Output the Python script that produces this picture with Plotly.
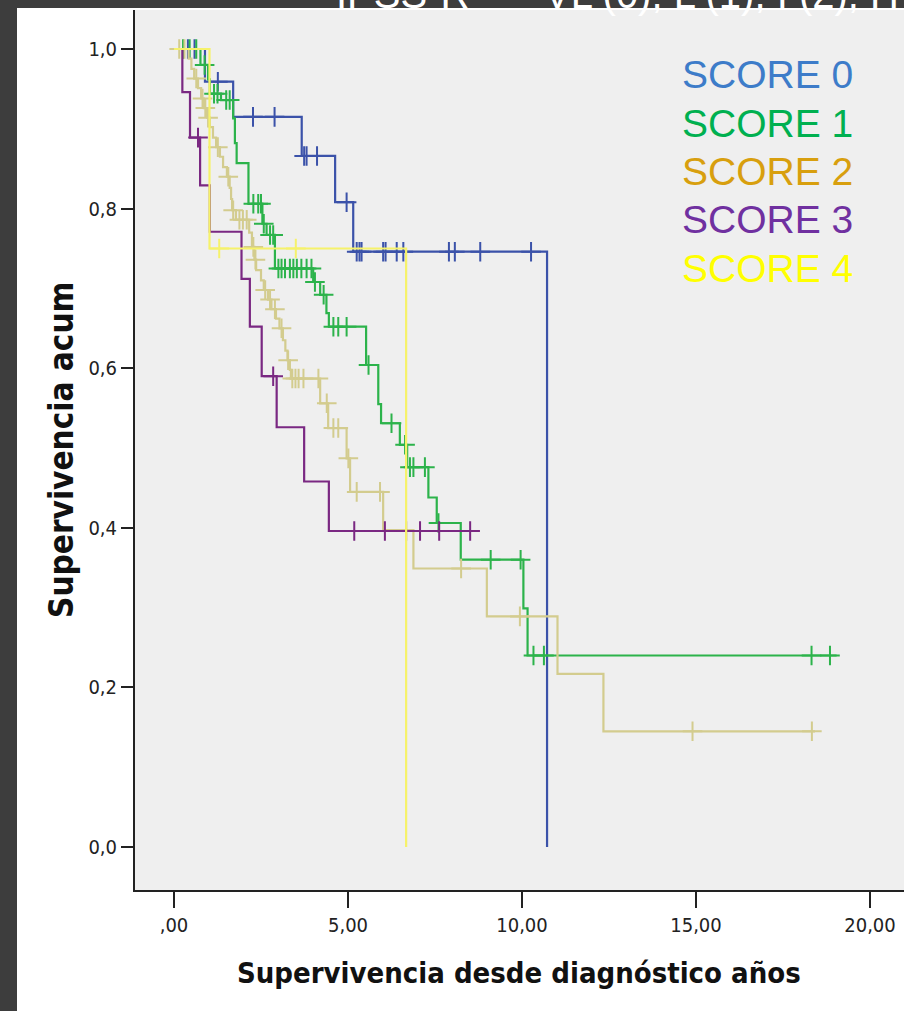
import plotly.graph_objects as go

# ---------------- data ----------------
groups = ["SCORE 0", "SCORE 1", "SCORE 2", "SCORE 3", "SCORE 4"]

# SCORE 0
s0_event_t = [0.89, 1.70, 3.67, 4.63, 5.15, 10.72]
s0_event_s = [0.959, 0.915, 0.866, 0.808, 0.746, 0.0]
s0_censor_t = [0.40, 0.59, 1.26, 2.27, 2.89, 3.74, 3.81, 4.11, 4.96, 5.25, 5.33,
               5.39, 6.01, 6.08, 6.40, 6.59, 7.90, 8.07, 8.80, 10.26]
s0_end = 10.72

# SCORE 1
s1_event_t = [0.76, 0.98, 1.03, 1.35, 1.70, 1.75, 1.80, 2.14, 2.54, 2.66, 2.90,
              4.00, 4.20, 4.38, 4.45, 5.52, 5.87, 5.95, 6.49, 6.70, 7.31, 7.55,
              8.24, 10.04, 10.16]
s1_event_s = [0.980, 0.962, 0.944, 0.936, 0.913, 0.882, 0.857, 0.806, 0.781, 0.767,
              0.725, 0.708, 0.692, 0.669, 0.652, 0.604, 0.555, 0.531, 0.504, 0.476,
              0.438, 0.406, 0.360, 0.299, 0.240]
s1_censor_t = [0.26, 0.45, 0.64, 0.88, 1.15, 1.25, 1.50, 1.60, 2.28, 2.42, 2.50,
               2.58, 2.76, 2.85, 3.00, 3.09, 3.19, 3.33, 3.43, 3.53, 3.66, 3.81,
               3.95, 4.05, 4.30, 4.58, 4.72, 4.96, 5.59, 6.25, 6.64, 6.78, 6.88,
               7.21, 7.60, 9.10, 9.96, 10.33, 10.63, 18.32, 18.85]
s1_end = 19.04

# SCORE 2
s2_event_t = [0.42, 0.50, 0.58, 0.69, 0.78, 0.86, 0.95, 1.03, 1.12, 1.21, 1.32,
              1.41, 1.52, 1.60, 1.64, 1.67, 1.78, 2.16, 2.24, 2.31, 2.36, 2.50,
              2.58, 2.70, 2.80, 2.93, 3.03, 3.13, 3.20, 3.26, 3.33, 3.36, 4.20,
              4.43, 4.96, 5.06, 6.01, 6.88, 8.99, 11.02, 12.34]
s2_event_s = [0.988, 0.975, 0.963, 0.951, 0.938, 0.926, 0.914, 0.902, 0.889, 0.877,
              0.865, 0.852, 0.840, 0.826, 0.812, 0.798, 0.786, 0.770, 0.752, 0.736,
              0.723, 0.710, 0.698, 0.686, 0.674, 0.662, 0.650, 0.635, 0.622, 0.610,
              0.598, 0.587, 0.556, 0.525, 0.487, 0.445, 0.397, 0.349, 0.289, 0.217,
              0.145]
s2_censor_t = [0.15, 0.30, 0.64, 0.82, 0.90, 0.98, 1.26, 1.56, 1.70, 1.88, 1.98,
               2.09, 2.28, 2.34, 2.62, 2.76, 2.90, 3.09, 3.28, 3.40, 3.49, 3.58,
               3.72, 4.15, 4.39, 4.58, 4.72, 5.01, 5.25, 5.92, 8.25, 9.94, 14.90,
               18.33]
s2_end = 18.42

# SCORE 3
s3_event_t = [0.24, 0.46, 0.75, 1.03, 1.94, 2.18, 2.52, 2.95, 3.74, 4.45]
s3_event_s = [0.946, 0.889, 0.829, 0.771, 0.712, 0.652, 0.590, 0.526, 0.458, 0.396]
s3_censor_t = [0.69, 2.85, 5.18, 6.06, 6.67, 7.07, 7.62, 8.51]
s3_end = 8.62

# SCORE 4
s4_event_t = [1.02, 6.67]
s4_event_s = [0.75, 0.0]
s4_censor_t = [1.30, 3.50]
s4_end = 6.67

x_tickvals = [0, 5, 10, 15, 20]
x_ticktext = [",00", "5,00", "10,00", "15,00", "20,00"]
y_tickvals = [0.0, 0.2, 0.4, 0.6, 0.8, 1.0]
y_ticktext = ["0,0", "0,2", "0,4", "0,6", "0,8", "1,0"]

x_title = "Supervivencia desde diagnóstico años"
y_title = "Supervivencia acum"
top_left_text = "IPSS-R"
top_right_text = "VL (0); L (1); I (2); H (3); VH (4)"

# ---------------- styles ----------------
line_colors = ["#3b52a9", "#2cb34b", "#d3cc8e", "#7a2882", "#f6f26a"]
legend_colors = ["#3d7cc9", "#00b050", "#d89f0e", "#7030a0", "#ffff00"]

series = [
    (s0_event_t, s0_event_s, s0_censor_t, s0_end),
    (s1_event_t, s1_event_s, s1_censor_t, s1_end),
    (s2_event_t, s2_event_s, s2_censor_t, s2_end),
    (s3_event_t, s3_event_s, s3_censor_t, s3_end),
    (s4_event_t, s4_event_s, s4_censor_t, s4_end),
]


def level_at(t, ev_t, ev_s):
    s = 1.0
    for et, es in zip(ev_t, ev_s):
        if et <= t:
            s = es
    return s


W, H = 904, 1011
ML, MR, MT, MB = 135, 0, 10, 121
PW, PH = W - ML - MR, H - MT - MB


def px_x(p):
    return (p - ML) / PW


def px_y(p):
    return (H - MB - p) / PH


fig = go.Figure()
for name, color, (ev_t, ev_s, c_t, end) in zip(groups, line_colors, series):
    xs = [0.0] + list(ev_t) + [end]
    ys = [1.0] + list(ev_s) + [ev_s[-1]]
    fig.add_trace(go.Scatter(x=xs, y=ys, mode="lines", line=dict(color=color, width=2.2, shape="hv"),
                             name=name, showlegend=False, hoverinfo="skip"))
    cy = [level_at(t, ev_t, ev_s) for t in c_t]
    fig.add_trace(go.Scatter(x=c_t, y=cy, mode="markers",
                             marker=dict(symbol="cross-thin", size=14, color=color,
                                         line=dict(color=color, width=2)),
                             showlegend=False, hoverinfo="skip"))

tick_font = dict(family="DejaVu Sans Condensed, DejaVu Sans", size=20, color="#222222")

fig.update_xaxes(range=[(ML - 174) / 34.8, (W - 174) / 34.8], tickvals=x_tickvals, ticktext=x_ticktext,
                 showline=True, linecolor="#222222", linewidth=2, ticks="outside", ticklen=16,
                 tickwidth=2, tickcolor="#222222", showgrid=False, zeroline=False, tickfont=tick_font)
fig.update_yaxes(range=[(847 - (H - MB)) / 798, (847 - MT) / 798], tickvals=y_tickvals, ticktext=y_ticktext,
                 showline=True, linecolor="#222222", linewidth=2, ticks="outside", ticklen=12,
                 tickwidth=2, tickcolor="#222222", showgrid=False, zeroline=False, tickfont=tick_font)

annotations = []
# legend text (slide overlay)
for i, (name, col) in enumerate(zip(groups, legend_colors)):
    annotations.append(dict(x=px_x(680), y=px_y(75 + i * 48.3), xref="paper", yref="paper",
                            text=name, showarrow=False, xanchor="left", yanchor="middle",
                            font=dict(family="Liberation Sans, Arial", size=39, color=col)))
# axis titles
annotations.append(dict(x=px_x(519), y=px_y(973), xref="paper", yref="paper", text="<b>" + x_title + "</b>",
                        showarrow=False, xanchor="center", yanchor="middle",
                        font=dict(family="DejaVu Sans Condensed, DejaVu Sans", size=29, color="#111111")))
annotations.append(dict(x=px_x(61), y=px_y(450), xref="paper", yref="paper", text="<b>" + y_title + "</b>",
                        showarrow=False, xanchor="center", yanchor="middle", textangle=-90,
                        font=dict(family="DejaVu Sans Condensed, DejaVu Sans", size=33, color="#111111")))
# clipped slide title at the very top (cut off by the page edge, as in the reference)
annotations.append(dict(x=px_x(334), y=px_y(18), xref="paper", yref="paper", text=top_left_text,
                        showarrow=False, xanchor="left", yanchor="bottom",
                        font=dict(family="Liberation Sans, Arial", size=40, color="#ffffff")))
annotations.append(dict(x=px_x(542), y=px_y(18), xref="paper", yref="paper", text=top_right_text,
                        showarrow=False, xanchor="left", yanchor="bottom",
                        font=dict(family="Liberation Sans, Arial", size=40, color="#ffffff")))

shapes = [
    dict(type="rect", xref="paper", yref="paper", x0=px_x(0), x1=px_x(17), y0=px_y(H + 5), y1=px_y(-5),
         fillcolor="#3d3d3d", line=dict(width=0), layer="above"),
    dict(type="rect", xref="paper", yref="paper", x0=px_x(0), x1=px_x(W + 5), y0=px_y(8), y1=px_y(-5),
         fillcolor="#3d3d3d", line=dict(width=0), layer="above"),
]

fig.update_layout(width=W, height=H, margin=dict(l=ML, r=MR, t=MT, b=MB, pad=0),
                  paper_bgcolor="#ffffff", plot_bgcolor="#efefef",
                  showlegend=False, annotations=annotations, shapes=shapes)

fig.write_html("out.html", config={"displayModeBar": False},
               post_script="document.body.style.margin='0';document.body.style.overflow='hidden';")
